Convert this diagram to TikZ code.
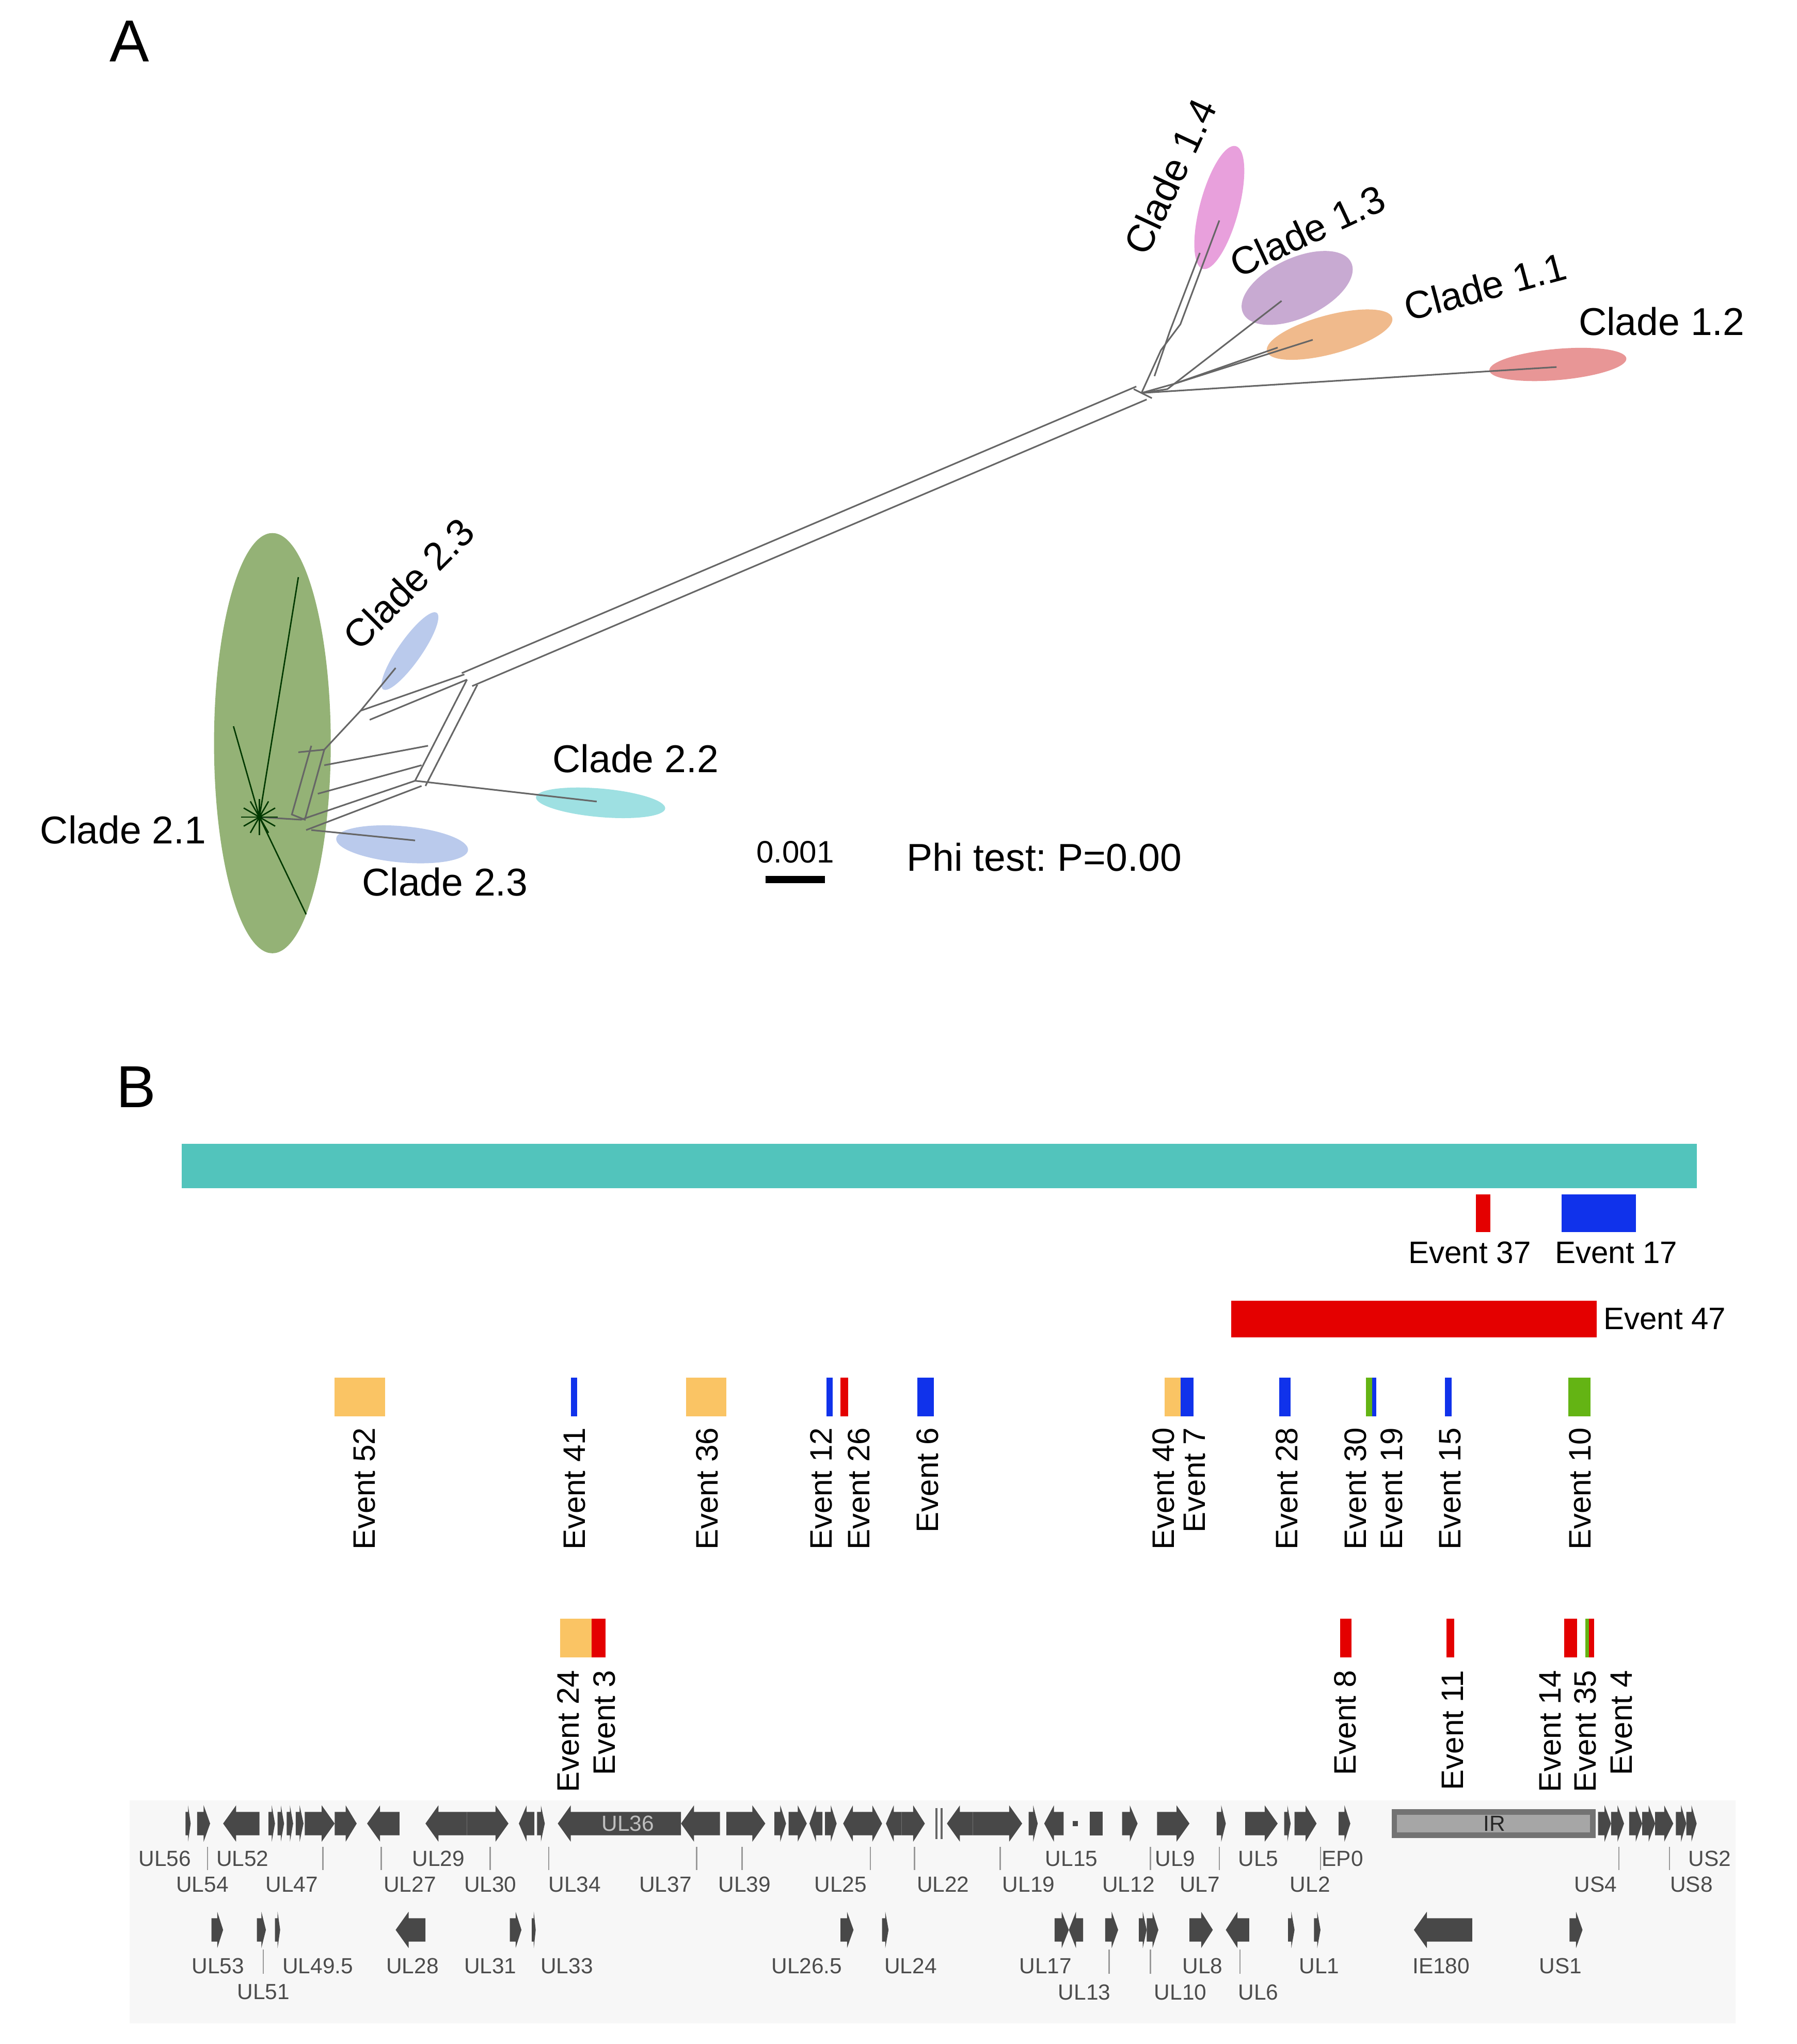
\documentclass[tikz,border=0pt]{standalone}
\usepackage{fontspec}
\setmainfont{Liberation Sans}
\usetikzlibrary{calc}
\usetikzlibrary{positioning}
\usetikzlibrary{shapes}
\definecolor{cladegreen}{RGB}{148,178,118}
\definecolor{cladeblue}{RGB}{186,202,236}
\definecolor{cladecyan}{RGB}{158,224,226}
\definecolor{cladepink}{RGB}{232,160,220}
\definecolor{cladepurple}{RGB}{200,170,210}
\definecolor{cladeorange}{RGB}{240,186,140}
\definecolor{cladered}{RGB}{232,150,150}
\definecolor{genometeal}{RGB}{82,196,188}
\definecolor{evred}{RGB}{228,0,0}
\definecolor{evblue}{RGB}{16,50,235}
\definecolor{evorange}{RGB}{250,196,100}
\definecolor{evgreen}{RGB}{100,180,20}
\definecolor{genedark}{RGB}{72,72,72}
\newcommand{\gene}[4]{
  \pgfmathsetmacro\gtip{min(10,0.5*(#2-#1))}
  \ifnum#3>0
    \fill[genedark] (#1,#4-9) -- (#2-\gtip,#4-9) -- (#2-\gtip,#4-14) -- (#2,#4) -- (#2-\gtip,#4+14) -- (#2-\gtip,#4+9) -- (#1,#4+9) -- cycle;
  \else
    \fill[genedark] (#2,#4-9) -- (#1+\gtip,#4-9) -- (#1+\gtip,#4-14) -- (#1,#4) -- (#1+\gtip,#4+14) -- (#1+\gtip,#4+9) -- (#2,#4+9) -- cycle;
  \fi
}
\begin{document}
\begin{tikzpicture}[x=0.01cm,y=-0.01cm,
  clade/.style={font=\fontsize{8.5}{10}\selectfont},
  event/.style={font=\fontsize{6.8}{8}\selectfont,rotate=90,anchor=east,inner sep=0pt},
  genelbl/.style={font=\fontsize{4.8}{5.5}\selectfont,text=black!70,inner sep=0pt},
  net/.style={black!60,line width=0.35pt},
  twig/.style={black!45!green!40!black,line width=0.3pt}]
\useasboundingbox (0,0) rectangle (1385,1576);

% panel A
\node[font=\fontsize{13}{15}\selectfont] (labA) at (100,32) {A};
\fill[cladegreen] (210,573) ellipse [x radius=45,y radius=162];
\fill[cladeblue] (316,502) ellipse [x radius=36,y radius=9,rotate=55];
\fill[cladeblue] (310,651) ellipse [x radius=51,y radius=14,rotate=-5];
\fill[cladecyan] (463,619) ellipse [x radius=50,y radius=11,rotate=-5];
\fill[cladepink] (940,160) ellipse [x radius=49,y radius=15,rotate=75];
\fill[cladepurple] (1000,222) ellipse [x radius=46,y radius=23,rotate=25];
\fill[cladeorange] (1025,258) ellipse [x radius=50,y radius=15,rotate=15];
\fill[cladered] (1201,281) ellipse [x radius=53,y radius=12,rotate=5];

% network
\coordinate (hubA) at (360,524);
\coordinate (hubB) at (880,303);
\coordinate (hubC) at (320,602);
\coordinate (star) at (200,630);
\draw[net] ($(hubA)+(-4,-5)$) -- ($(hubB)+(-4,-5)$);
\draw[net] ($(hubA)+(4,5)$) -- ($(hubB)+(4,5)$);
\draw[net] (hubA) -- (hubC);
\draw[net] ($(hubA)+(8,4)$) -- ($(hubC)+(8,4)$);
\draw[net] ($(hubA)+(-2,-4)$) -- (278,548) -- (250,578);
\draw[net] (hubA) -- (285,555);
\draw[net] (330,575) -- (250,590);
\draw[net] (325,590) -- (245,612);
\draw[net] (hubC) -- (232,632) -- (star);
\draw[net] ($(hubC)+(5,4)$) -- (236,640);
\draw[net] (hubC) -- (460,618);
\draw[net] (278,548) -- (305,515);
\draw[net] (240,640) -- (320,648);
\draw[net] (230,580) -- (250,578) -- (235,632) -- (225,628) -- (240,575);
\draw[twig] (star) -- (230,445);
\draw[twig] (star) -- (236,705);
\draw[twig] (star) -- (180,560);
\foreach \ang in {0,30,...,330} \draw[twig] (star) -- ++(\ang:14);
\draw[net] (hubB) -- (1200,283);
\draw[net] (hubB) -- (905,296) -- (1012,262);
\draw[net] (hubB) -- (900,300) -- (988,232);
\draw[net] (hubB) -- (895,270) -- (910,250) -- (940,170);
\draw[net] (890,290) -- (902,255) -- (925,195);
\draw[net] (905,296) -- (985,268);
\draw[net] ($(hubB)+(-6,-3)$) -- ($(hubB)+(8,4)$);

\node[clade,rotate=65] (c14) at (902,136) {Clade 1.4};
\node[clade,rotate=25] (c13) at (1008,178) {Clade 1.3};
\node[clade,rotate=15] (c11) at (1145,221) {Clade 1.1};
\node[clade] (c12) at (1281,248) {Clade 1.2};
\node[clade,rotate=45] (c23a) at (315,450) {Clade 2.3};
\node[clade] (c22) at (490,585) {Clade 2.2};
\node[clade] (c21) at (95,640) {Clade 2.1};
\node[clade] (c23b) at (343,680) {Clade 2.3};
\coordinate (barL) at (590,678);
\coordinate (barR) at (636,678);
\draw[line width=1.6pt] (barL) -- (barR);
\node[font=\fontsize{6.8}{8}\selectfont] (barlbl) at (613,657) {0.001};
\node[clade] (phi) at (805,661) {Phi test:~P=0.00};

% panel B
\node[font=\fontsize{13}{15}\selectfont] (labB) at (105,838) {B};
\fill[genometeal] (140,882) rectangle (1308,916);
\fill[evred] (1138,921) rectangle (1149,950);
\fill[evblue] (1204,921) rectangle (1261,950);
\node[font=\fontsize{6.8}{8}\selectfont] (ev37) at (1133,966) {Event 37};
\node[font=\fontsize{6.8}{8}\selectfont] (ev17) at (1246,966) {Event 17};
\fill[evred] (949,1003) rectangle (1231,1031);
\node[font=\fontsize{6.8}{8}\selectfont,anchor=west,inner sep=1pt] (ev47) at (1232,1017) {Event 47};

% events, row of single boxes
\foreach \xa/\xb/\col in {258/297/evorange,440/445/evblue,529/560/evorange,637/642/evblue,648/654/evred,
  707/720/evblue,898/910/evorange,910/920/evblue,986/995/evblue,1053/1058/evgreen,1058/1061/evblue,
  1114/1119/evblue,1209/1226/evgreen}
  \fill[\col] (\xa,1062) rectangle (\xb,1092);
\foreach \x/\n in {281/52,443/41,545/36,633/12,662/26,715/6,897/40,921/7,992/28,1045/30,1073/19,1118/15,1218/10}
  \node[event] (ev\n) at (\x,1100) {Event \n};
\foreach \xa/\xb/\col in {432/456/evorange,456/467/evred,1033/1042/evred,1115/1121/evred,
  1206/1216/evred,1222/1225/evgreen,1225/1229/evred}
  \fill[\col] (\xa,1248) rectangle (\xb,1278);
\foreach \x/\n in {438/24,466/3,1037/8,1120/11,1195/14,1222/35,1250/4}
  \node[event] (ev\n) at (\x,1287) {Event \n};

% gene map
\fill[black!3] (100,1388) rectangle (1338,1560);
\foreach \xa/\xb/\d in {143/147/1,152/162/1,172/200/-1,207/212/1,214/219/1,221/226/1,228/234/1,235/258/1,
  258/275/1,283/308/-1,328/360/-1,360/392/1,400/412/-1,414/420/1,430/525/-1,525/555/-1,560/590/1,
  597/606/1,608/622/1,624/634/-1,636/645/1,650/665/-1,665/680/1,683/695/-1,695/713/1,730/750/-1,
  750/788/1,793/800/1,805/820/-1,865/877/1,892/917/1,938/945/1,960/985/1,990/995/1,998/1015/1,
  1032/1041/1,1232/1242/1,1242/1252/1,1256/1266/1,1266/1276/1,1276/1290/1,1292/1300/1,1300/1308/1}
  \gene{\xa}{\xb}{\d}{1406};
\fill[genedark] (840,1397) rectangle (850,1415);
\fill[genedark] (827,1404) rectangle (831,1408);
\draw[black!60] (722,1394) -- (722,1418) (726,1394) -- (726,1418);
\filldraw[fill=black!35,draw=black!55,line width=1.2pt] (1075,1397) rectangle (1228,1415);
\node[genelbl,text=black!85] (irlbl) at (1152,1406) {IR};
\node[genelbl,text=black!25] (ul36lbl) at (484,1406) {UL36};
\foreach \xa/\xb/\d in {163/172/1,198/205/1,212/216/1,305/328/-1,393/402/1,410/413/1,648/658/1,680/685/1,
  813/824/1,824/835/-1,852/862/1,878/884/1,884/893/1,917/935/1,945/963/-1,993/998/1,1013/1018/1,
  1090/1135/-1,1210/1220/1}
  \gene{\xa}{\xb}{\d}{1488};
\foreach \x/\n in {127/UL56,187/UL52,338/UL29,826/UL15,906/UL9,970/UL5,1035/EP0,1318/US2}
  \node[genelbl] (g\n) at (\x,1433) {\n};
\foreach \x/\n in {156/UL54,225/UL47,316/UL27,378/UL30,443/UL34,513/UL37,574/UL39,648/UL25,727/UL22,
  793/UL19,870/UL12,925/UL7,1010/UL2,1230/US4,1304/US8}
  \node[genelbl] (g\n) at (\x,1453) {\n};
\foreach \x/\n in {168/UL53,245/UL49.5,318/UL28,378/UL31,437/UL33,622/UL26.5,702/UL24,806/UL17,
  927/UL8,1017/UL1,1111/IE180,1203/US1}
  \node[genelbl] (g\n) at (\x,1516) {\n};
\foreach \x/\n in {203/UL51,836/UL13,910/UL10,970/UL6}
  \node[genelbl] (g\n) at (\x,1536) {\n};
\foreach \x/\ya/\yb in {160/1424/1442,249/1424/1442,294/1424/1442,378/1424/1442,423/1424/1442,
  537/1424/1442,572/1424/1442,671/1424/1442,705/1424/1442,771/1424/1442,887/1424/1442,940/1424/1442,
  1018/1424/1442,1248/1424/1442,1287/1424/1442,203/1503/1522,855/1503/1522,887/1503/1522,956/1503/1522}
  \draw[black!40,line width=0.3pt] (\x,\ya) -- (\x,\yb);
\end{tikzpicture}
\end{document}
